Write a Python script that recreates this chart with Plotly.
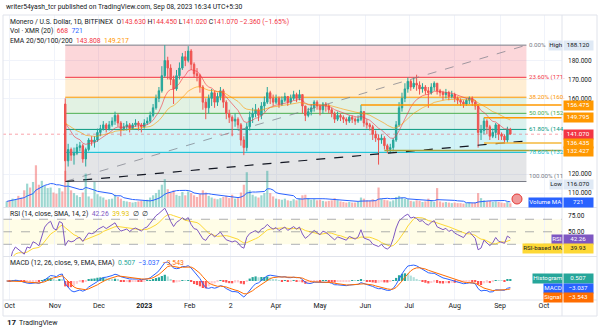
import pandas as pd
import numpy as np
import plotly.graph_objects as go

# ---------------- data (2-day candles) ----------------
pre_close = [146, 145, 147, 148, 146, 144, 141, 143, 142, 144, 143, 141, 145, 150, 153, 155, 151, 150, 158, 157]

close = ([127, 133, 130, 131, 134, 135, 128, 133, 138, 137, 138, 142] +
         [144, 146, 144, 146, 148, 151, 147, 144, 145, 146, 144, 146, 147, 146, 145] +
         [147, 148, 151, 155, 160, 164, 172, 180, 176, 170, 165, 172, 176, 182, 180, 185] +
         [178, 173, 172, 166, 158, 155, 160, 163, 158, 161, 164, 158, 152, 150] +
         [148, 149, 146, 138, 134, 145, 150, 152, 154, 151, 156, 158, 163, 160, 158] +
         [160, 157, 159, 161, 158, 160, 162, 160, 162, 156, 151, 153, 155, 158, 156] +
         [154, 157, 156, 154, 152, 149, 151, 150, 149, 148, 150, 149, 148, 149, 153, 147] +
         [146, 145, 141, 139, 138, 139, 135, 133, 134, 138, 146, 155, 160, 165, 169] +
         [166, 168, 167, 165, 166, 164, 163, 166, 168, 164, 163, 162, 163, 161, 162] +
         [160, 159, 158, 157, 159, 160, 158, 156, 142, 143, 148, 145, 140, 142, 146, 141] +
         [140, 138, 143.6, 141.07])

high = ([160, 136, 134, 134, 136, 137, 136, 134, 139, 140, 140, 144] +
        [146, 148, 147, 148, 150, 153, 152, 148, 147, 148, 147, 147, 149, 148, 147] +
        [149, 150, 153, 157, 162, 166, 177, 188.12, 182, 178, 172, 175, 179, 184, 185, 187.6] +
        [186, 179, 176, 173, 167, 160, 162, 165, 164, 163, 166, 165, 159, 154] +
        [151, 152, 150, 147, 140, 147, 153, 155, 157, 155, 158, 161, 166, 164, 162] +
        [162, 161, 161, 163, 161, 162, 164, 163, 164.5, 162, 156, 155, 157, 159, 159] +
        [157, 158, 158, 157, 155, 153, 153, 152, 151, 150, 151, 151, 150, 151, 156.6, 153] +
        [149, 147, 146, 143, 141, 141, 140, 136, 136, 139, 148, 158, 163, 168, 171] +
        [170, 171, 172.5, 169, 168, 167, 166, 168, 169, 168, 165, 164, 165, 164, 164] +
        [163, 161, 160, 159, 160, 161, 161, 159, 157, 146, 149.8, 149, 146, 144, 147, 146] +
        [142, 141, 145, 144.45])

low = ([116.07, 124, 127, 125, 130, 132, 126, 124, 132, 135, 134, 137] +
       [140, 143, 142, 143, 145, 146, 145, 140, 143, 143, 142, 144, 145, 143, 142] +
       [144, 146, 147, 150, 154, 158, 163, 171, 170, 167, 157, 164, 170, 175, 177, 179] +
       [175, 171, 169, 163, 154, 149, 152, 156, 155, 156, 159, 155, 149, 147] +
       [140, 145, 144, 135, 130, 132, 143, 147, 150, 148, 149, 153, 157, 157, 156] +
       [157, 155, 156, 158, 156, 157, 159, 158, 159, 152, 148, 150, 151, 153, 154] +
       [151, 152, 153, 152, 150, 147, 148, 148, 147, 146, 147, 147, 146, 147, 148, 145] +
       [144, 143, 138, 137, 125, 136, 133, 131, 131, 132, 137, 145, 153, 158, 163] +
       [164, 165, 164, 162, 163, 162, 155, 162, 164, 162, 161, 159, 160, 159, 160] +
       [158, 157, 156, 155, 156, 157, 156, 154, 134, 138, 141, 141, 138, 139, 139, 138] +
       [138, 136, 136.5, 141.02])

volume = ([2000, 2400, 3000, 2600, 4000, 3400, 6000, 8400, 7000, 9000, 15000, 8000, 9400, 7600, 6800, 7000, 5200, 4800, 6800, 5600] +
          [13000, 9000, 6000, 5000, 4200, 3600, 5200, 12000, 3800, 3000, 9000, 4600] +
          [3800, 3400, 2600, 2800, 3000, 4400, 3600, 3000, 2200, 2000, 1800, 1600, 1800, 2000, 2200] +
          [2400, 2600, 3400, 4200, 5000, 6200, 8000, 10000, 6400, 5200, 6000, 4400, 4000, 5400, 4200, 5600] +
          [5000, 4200, 3600, 4600, 6000, 5200, 4000, 3400, 3000, 2800, 3200, 3600, 4000, 3200] +
          [4400, 3000, 3200, 5200, 8000, 12500, 6000, 4400, 3800, 3400, 4200, 5000, 13000, 5000, 3800] +
          [3000, 2800, 2600, 3000, 2400, 2200, 2800, 2400, 3000, 4200, 4400, 3200, 2600, 2800, 2400] +
          [2600, 2200, 2000, 2200, 2400, 3200, 2400, 2000, 1800, 1600, 1800, 1600, 1600, 1800, 3400, 3000] +
          [2400, 2200, 2800, 2400, 7000, 3000, 2600, 2400, 2000, 2400, 3600, 4000, 3400, 3000, 2800] +
          [2200, 2000, 2400, 2200, 1800, 2000, 3000, 2200, 1800, 6800, 2000, 1600, 1800, 1600, 1400] +
          [1600, 1400, 1400, 1200, 1400, 1600, 1400, 1600, 5000, 3200, 2400, 2000, 2200, 1800, 2000, 1800] +
          [1600, 1400, 1800, 1336])

month_ticks = ["2022-10-01", "2022-11-01", "2022-12-01", "2023-01-01", "2023-02-01", "2023-03-01",
               "2023-04-01", "2023-05-01", "2023-06-01", "2023-07-01", "2023-08-01", "2023-09-01", "2023-10-01"]
month_labels = ["Oct", "Nov", "Dec", "<b>2023</b>", "Feb", "2", "Apr", "May", "Jun", "Jul", "Aug", "Sep", "Oct"]
price_ticks = [110, 120, 160, 170, 180]

hline_levels = [156.475, 149.795, 136.435, 132.427]
hline_starts = ["2023-05-29", "2023-08-21", "2023-08-21", "2023-06-14"]
fib_ratios = [0.0, 0.236, 0.382, 0.5, 0.618, 0.786, 1.0]
fib_texts = ["0.00%", "23.60% (171.", "38.20% (160.", "50.00% (152.", "61.80% (144.", "78.60% (132.", "100.00% (11"]

assert len(pre_close) == 20
assert len(close) == len(high) == len(low) == 153
assert len(volume) == 173

# ---------------- derived series ----------------
n_pre = len(pre_close)
dates = pd.date_range("2022-09-29", periods=n_pre + len(close), freq="2D")
vdates = dates[n_pre:]
all_close = pd.Series(pre_close + close, index=dates, dtype=float)
opens = [pre_close[-1]] + close[:-1]

ema20 = all_close.ewm(span=10, adjust=False).mean()
ema50 = all_close.ewm(span=25, adjust=False).mean()

delta = all_close.diff()
gain = delta.clip(lower=0).ewm(alpha=1 / 10, adjust=False).mean()
loss = (-delta.clip(upper=0)).ewm(alpha=1 / 10, adjust=False).mean()
rsi = 100 - 100 / (1 + gain / loss)
rsi_ma = rsi.rolling(7, min_periods=1).mean()

macd = all_close.ewm(span=6, adjust=False).mean() - all_close.ewm(span=13, adjust=False).mean()
signal = macd.ewm(span=5, adjust=False).mean()
hist = macd - signal

vol = pd.Series(volume, index=dates, dtype=float)
vol_ma = vol.rolling(10, min_periods=1).mean()
up = all_close.diff().fillna(0) >= 0
vcolors = ["rgba(38,166,154,0.45)" if u else "rgba(239,83,80,0.45)" for u in up]

hcol = []
for i in range(len(hist)):
    h = hist.iloc[i]
    prev = hist.iloc[i - 1] if i > 0 else h
    if h >= 0:
        hcol.append("#26a69a" if h >= prev else "#b2dfdb")
    else:
        hcol.append("#ff5252" if h < prev else "#ffcdd2")

# ---------------- geometry helpers ----------------
W, H = 600, 331
L, R, T, B = 3, 562, 15, 300


def px(x):
    return (x - L) / (R - L)


def py(y):
    return (B - y) / (B - T)


main_dom = [py(207), 1]
rsi_dom = [py(256), py(208)]
macd_dom = [0, py(257)]

x_range = ["2022-09-26 12:00", "2023-10-13 07:00"]
main_range = [102.61, 204.04]
rsi_range = [11.3, 88]
mmin = min(macd.min(), signal.min())
mmax = max(macd.max(), signal.max())
s = (mmax - mmin) / 35
macd_range = [mmin - 3 * s, mmax + 5 * s]


def price_px(p):
    return 207 - (p - main_range[0]) / (main_range[1] - main_range[0]) * (207 - 15)


fig = go.Figure()

# volume overlay
fig.add_trace(go.Bar(x=dates, y=vol, marker=dict(color=vcolors, line=dict(width=0)),
                     xaxis="x", yaxis="y4", showlegend=False))
fig.add_trace(go.Scatter(x=dates, y=vol_ma, mode="lines", line=dict(color="#2962ff", width=1),
                         xaxis="x", yaxis="y4", showlegend=False))

# fib geometry
fib_hi = max(high)
fib_lo = min(low)
lo_date = vdates[int(np.argmin(low))]
fib_end = pd.Timestamp("2023-09-19")
fib_line_cols = ["#787b86", "#f23645", "#ff9800", "#4caf50", "#089981", "#00bcd4", "#787b86"]
fib_fill_cols = ["rgba(242,54,69,0.2)", "rgba(255,152,0,0.17)", "rgba(76,175,80,0.16)",
                 "rgba(8,153,129,0.14)", "rgba(0,188,212,0.18)", "rgba(120,123,134,0.2)"]
fib_prices = [fib_hi - r * (fib_hi - fib_lo) for r in fib_ratios]

# candles
fig.add_trace(go.Candlestick(x=vdates, open=opens, high=high, low=low, close=close,
                             increasing=dict(line=dict(color="#26a69a", width=1), fillcolor="#26a69a"),
                             decreasing=dict(line=dict(color="#ef5350", width=1), fillcolor="#ef5350"),
                             whiskerwidth=0, xaxis="x", yaxis="y", showlegend=False))
fig.add_trace(go.Scatter(x=vdates, y=ema20[vdates], mode="lines",
                         line=dict(color="rgba(242,54,69,0.6)", width=1), xaxis="x", yaxis="y", showlegend=False))
fig.add_trace(go.Scatter(x=vdates, y=ema50[vdates], mode="lines",
                         line=dict(color="rgba(255,152,0,0.6)", width=1), xaxis="x", yaxis="y", showlegend=False))

# drawings as separate 2-point traces
fig.add_trace(go.Scatter(x=[lo_date, fib_end], y=[fib_lo, fib_hi], mode="lines",
                         line=dict(color="rgba(120,123,134,0.7)", width=1, dash="dash"),
                         xaxis="x", yaxis="y", showlegend=False))
fig.add_trace(go.Scatter(x=[lo_date, fib_end], y=[fib_lo, 137.5], mode="lines",
                         line=dict(color="#131722", width=1.2, dash="dash"),
                         xaxis="x", yaxis="y", showlegend=False))
ray_cols = ["#ff9800", "#ff9800", "#f5b93d", "#a8a23a"]
for lv, st, c in zip(hline_levels, hline_starts, ray_cols):
    fig.add_trace(go.Scatter(x=[pd.Timestamp(st), pd.Timestamp(x_range[1])], y=[lv, lv], mode="lines",
                             line=dict(color=c, width=1.5), xaxis="x", yaxis="y", showlegend=False))

# RSI
fig.add_trace(go.Scatter(x=dates, y=rsi_ma, mode="lines", line=dict(color="#fdd835", width=1),
                         xaxis="x2", yaxis="y2", showlegend=False))
fig.add_trace(go.Scatter(x=dates, y=rsi, mode="lines", line=dict(color="#7e57c2", width=1),
                         xaxis="x2", yaxis="y2", showlegend=False))

# MACD
fig.add_trace(go.Bar(x=dates, y=hist, marker=dict(color=hcol, line=dict(width=0)),
                     xaxis="x3", yaxis="y3", showlegend=False))
fig.add_trace(go.Scatter(x=dates, y=macd, mode="lines", line=dict(color="#2962ff", width=1),
                         xaxis="x3", yaxis="y3", showlegend=False))
fig.add_trace(go.Scatter(x=dates, y=signal, mode="lines", line=dict(color="#ff6d00", width=1),
                         xaxis="x3", yaxis="y3", showlegend=False))

# ---------------- shapes ----------------
shapes = []
for i in range(6):
    shapes.append(dict(type="rect", xref="x", yref="y", x0=lo_date, x1=fib_end,
                       y0=fib_prices[i + 1], y1=fib_prices[i], fillcolor=fib_fill_cols[i],
                       line=dict(width=0), layer="between"))
for i, p in enumerate(fib_prices):
    shapes.append(dict(type="line", xref="x", yref="y", x0=lo_date, x1=fib_end, y0=p, y1=p,
                       line=dict(color=fib_line_cols[i], width=1), layer="between"))
# last price line
shapes.append(dict(type="line", xref="paper", yref="y", x0=0, x1=1, y0=close[-1], y1=close[-1],
                   line=dict(color="rgba(242,54,69,0.45)", width=1, dash="dot")))
# RSI band & levels
shapes.append(dict(type="rect", xref="paper", yref="y2", x0=0, x1=1, y0=30, y1=70,
                   fillcolor="rgba(255,235,59,0.12)", line=dict(width=0), layer="below"))
for lv in (70, 50, 30):
    shapes.append(dict(type="line", xref="paper", yref="y2", x0=0, x1=1, y0=lv, y1=lv,
                       line=dict(color="rgba(120,123,134,0.6)", width=1, dash="dash")))
# pane separators and frame
for yy in (207.5, 256.5, 300):
    shapes.append(dict(type="line", xref="paper", yref="paper", x0=px(3), x1=px(597), y0=py(yy), y1=py(yy),
                       line=dict(color="#e0e3eb", width=1)))
shapes.append(dict(type="line", xref="paper", yref="paper", x0=px(562), x1=px(562), y0=py(15), y1=py(316),
                   line=dict(color="#e0e3eb", width=1)))
shapes.append(dict(type="rect", xref="paper", yref="paper", x0=px(3), x1=px(597), y0=py(316), y1=py(15),
                   line=dict(color="#e0e3eb", width=1)))
# event flag
shapes.append(dict(type="circle", xref="paper", yref="paper", x0=px(512), x1=px(522), y0=py(204), y1=py(194),
                   fillcolor="#ef9a9a", line=dict(color="#e53935", width=1)))

# ---------------- annotations ----------------
ann = []
FONT = "Roboto, Liberation Sans, sans-serif"


def text(x, y, t, size=7, color="#131722", xanchor="left"):
    ann.append(dict(xref="paper", yref="paper", x=px(x), y=py(y), text=t, showarrow=False,
                    xanchor=xanchor, yanchor="middle", font=dict(size=size, color=color, family=FONT)))


def box(x, y, t, bg, fg="#ffffff", xanchor="left", width=None):
    d = dict(xref="paper", yref="paper", x=px(x), y=py(y), text=t, showarrow=False,
             xanchor=xanchor, yanchor="middle", bgcolor=bg, borderpad=0.3,
             font=dict(size=6.2, color=fg, family=FONT))
    if width:
        d["width"] = width
    ann.append(d)


RED = "#f23645"
text(4, 7.5, "writer54yash_tcr published on TradingView.com, Sep 08, 2023 16:34 UTC+5:30", size=6.8)
text(8, 22, "Monero / U.S. Dollar, 1D, BITFINEX  O<span style='color:%s'>143.630</span> H<span style='color:%s'>144.450</span> "
            "L<span style='color:%s'>141.020</span> C<span style='color:%s'>141.070</span> "
            "<span style='color:%s'>−2.360 (−1.65%%)</span>" % (RED, RED, RED, RED, RED), size=6.8)
text(8, 31.5, "Vol · XMR (20)  <span style='color:%s'>668</span>  <span style='color:#2962ff'>721</span>" % RED, size=6.8)
text(8, 41, "EMA 20/50/100/200  <span style='color:%s'>143.808</span>  <span style='color:#ff9800'>149.217</span>" % RED, size=6.8)
text(8, 214, "RSI (14, close, SMA, 14, 2)  <span style='color:#7e57c2'>42.26</span>  "
              "<span style='color:#e6c200'>39.93</span>  ∅  ∅", size=6.8)
text(8, 263, "MACD (12, 26, close, 9, EMA, EMA)  <span style='color:#26a69a'>0.507</span>  "
              "<span style='color:#2962ff'>−3.037</span>  <span style='color:#ff6d00'>−3.543</span>", size=6.8)
text(5, 322.5, "<b>17</b>", size=8, color="#131722")
text(17, 322.5, "TradingView", size=7, color="#131722")

fib_label_y = [price_px(p) for p in fib_prices]
fib_label_y[-1] = fib_label_y[-1] - 6
for t, yy, c in zip(fib_texts, fib_label_y, fib_line_cols):
    text(527, yy, t, size=6.2, color=c)

LIGHT = "#dfe9f5"
box(562.5, 45, "High", LIGHT, "#131722", xanchor="right")
box(563, 45, "188.120", LIGHT, "#131722", width=28)
box(562.5, 184.5, "Low", LIGHT, "#131722", xanchor="right")
box(563, 184.5, "116.070", LIGHT, "#131722", width=28)
box(563, 105.5, "156.475", "#ff9800", width=28)
box(563, 117.5, "149.795", "#ff9800", width=28)
box(563, 134, "141.070", RED, width=28)
box(563, 143, "136.435", "#ff9800", width=28)
box(563, 151, "132.427", "#ff9800", width=28)
box(562.5, 202, "Volume MA", "#2962ff", xanchor="right")
box(563, 202, "721", "#2962ff", width=28)
box(562.5, 239.5, "RSI", "#7e57c2", xanchor="right")
box(563, 239.5, "42.26", "#7e57c2", width=28)
box(562.5, 248, "RSI-based MA", "#fdd835", "#131722", xanchor="right")
box(563, 248, "39.93", "#fdd835", "#131722", width=28)
box(562.5, 278, "Histogram", "#26a69a", xanchor="right")
box(563, 278, "0.507", "#26a69a", width=28)
box(562.5, 288, "MACD", "#2962ff", xanchor="right")
box(563, 288, "−3.037", "#2962ff", width=28)
box(562.5, 297.5, "Signal", "#ff6d00", xanchor="right")
box(563, 297.5, "−3.543", "#ff6d00", width=28)

GRID = "#f0f3fa"
xcommon = dict(type="date", range=x_range, tickvals=month_ticks, ticktext=month_labels,
               showgrid=True, gridcolor=GRID, zeroline=False, showline=False, ticks="",
               rangeslider=dict(visible=False))

fig.update_layout(
    width=W, height=H, margin=dict(l=L, r=W - R, t=T, b=H - B),
    paper_bgcolor="#ffffff", plot_bgcolor="#ffffff", showlegend=False, bargap=0.25,
    font=dict(family=FONT, size=7, color="#131722"),
    xaxis=dict(**xcommon, domain=[0, 1], anchor="y", showticklabels=False),
    xaxis2=dict(**xcommon, domain=[0, 1], anchor="y2", matches="x", showticklabels=False),
    xaxis3=dict(**xcommon, domain=[0, 1], anchor="y3", matches="x", showticklabels=True,
                tickfont=dict(size=7, color="#131722")),
    yaxis=dict(domain=main_dom, range=main_range, side="right", tickvals=price_ticks,
               ticktext=["%.3f" % v for v in price_ticks], showgrid=True, gridcolor=GRID,
               zeroline=False, ticks="", ticklabelstandoff=5, tickfont=dict(size=6.5), fixedrange=True),
    yaxis4=dict(overlaying="y", range=[0, 69000], visible=False, showgrid=False),
    yaxis2=dict(domain=rsi_dom, range=rsi_range, side="right", tickvals=[50, 75],
                ticktext=["50.00", "75.00"], showgrid=False, zeroline=False, ticks="",
                ticklabelstandoff=5, tickfont=dict(size=6.5)),
    yaxis3=dict(domain=macd_dom, range=macd_range, side="right", showticklabels=False,
                showgrid=False, zeroline=False),
    shapes=shapes, annotations=ann,
)

fig.write_html("out.html")
